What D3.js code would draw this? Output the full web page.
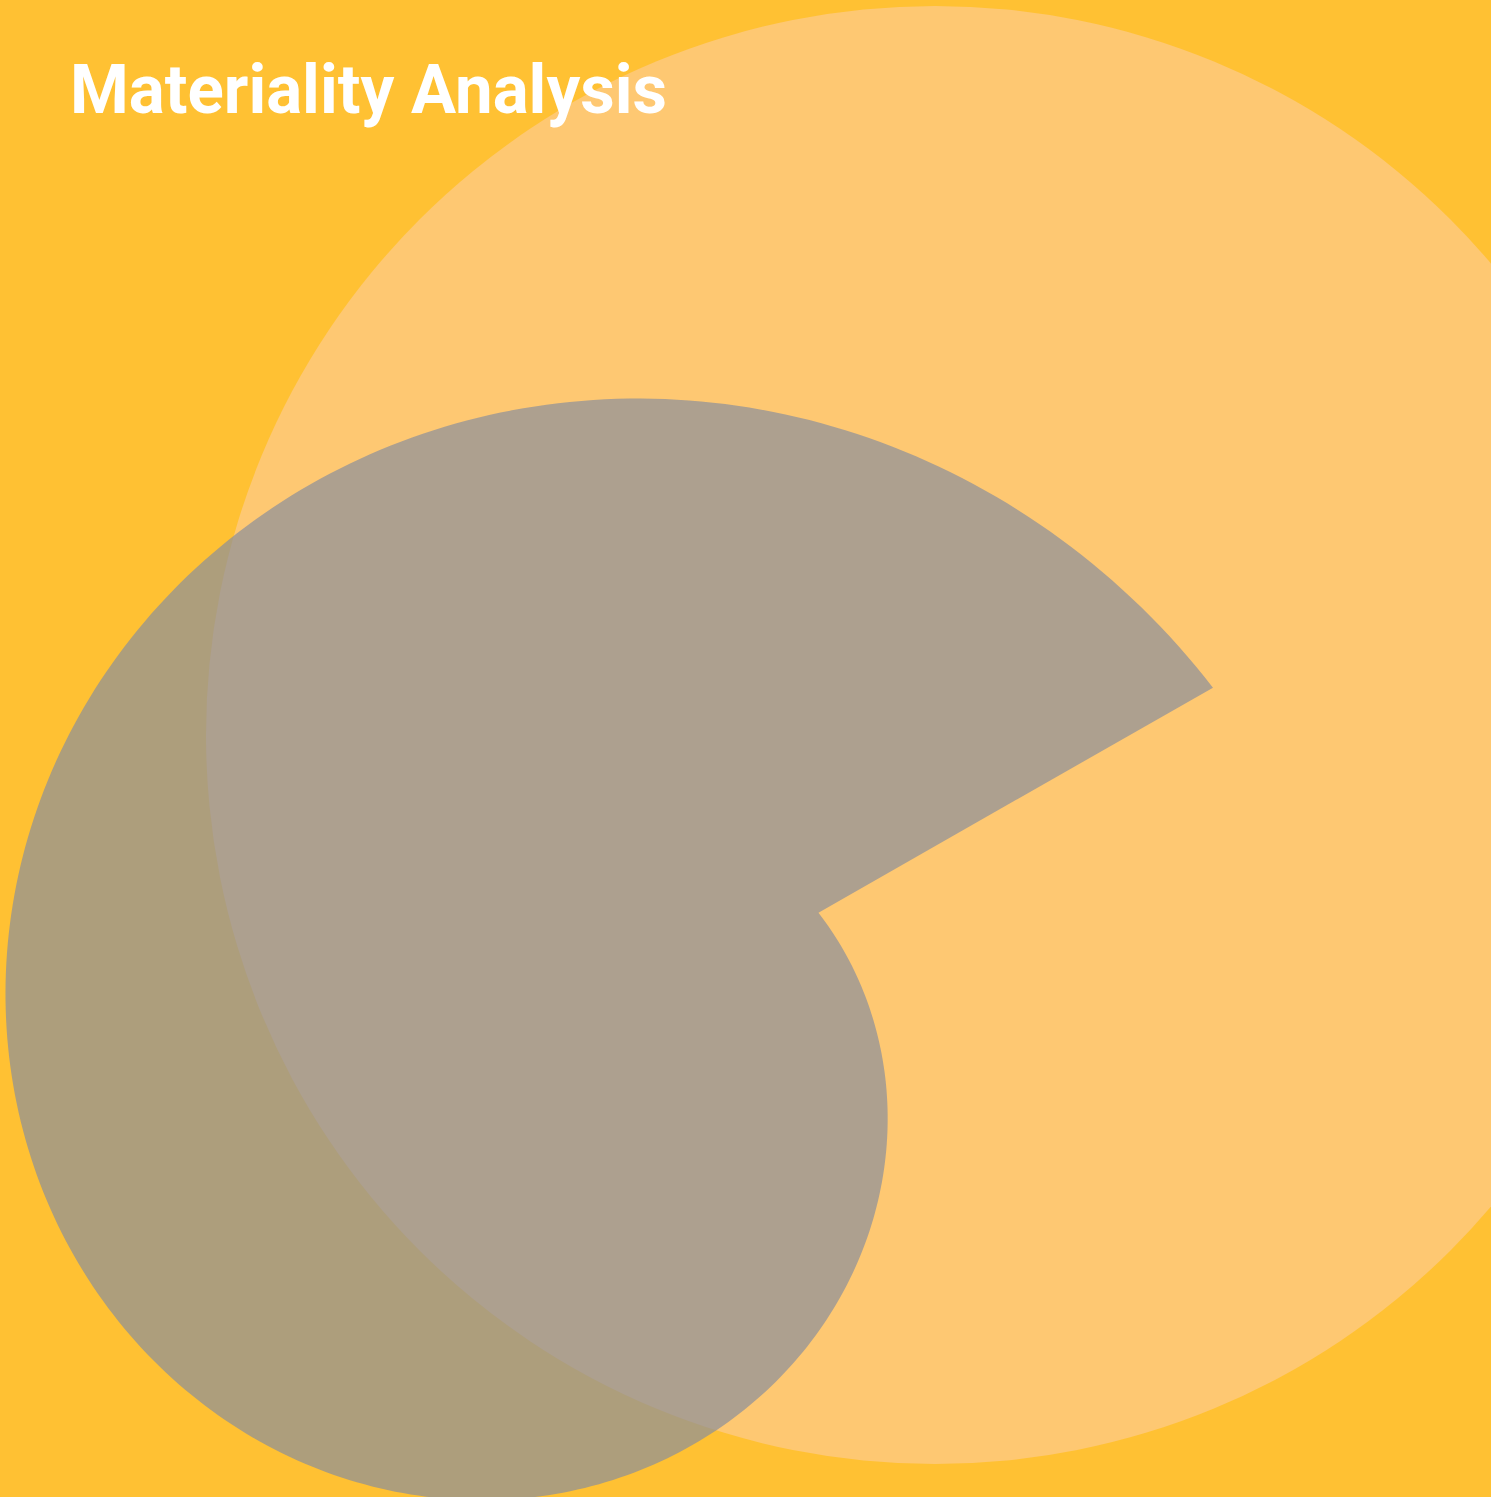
<!DOCTYPE html>
<html>
<head>
<meta charset="utf-8">
<script src="https://cdn.jsdelivr.net/npm/d3@7"></script>
<style>
  html, body { margin: 0; padding: 0; background: #FFC133; }
  svg { display: block; }
</style>
</head>
<body>
<div id="chart"></div>
<script>
// Materiality Analysis - outer bubble with a spiral layer over it

var chartTitle = "Materiality Analysis";

// values (relative units)
var layerNames = ["Outer", "Spiral"];
var circleValues = [100];          // outer bubble radius
var spiralValues = [43.5, 105.8];  // spiral radius at start and end of the turn

var width = 1491,
    height = 1497;

var colors = {
  bg: "#FFC133",
  circle: "#FEC872",
  spiral: "rgb(138,143,155)"
};

// layout
var circleCenter = [935, 735],
    spiralCenter = [543, 1069.8],
    spiralStart = 60.3; // degrees, d3 convention (0 = up, clockwise)

var r = d3.scaleLinear()
  .domain([0, 100])
  .range([0, 729]);

var svg = d3.select("#chart")
  .append("svg")
    .attr("width", width)
    .attr("height", height);

svg.append("rect")
  .attr("width", width)
  .attr("height", height)
  .attr("fill", colors.bg);

// outer bubble
svg.selectAll(".bubble")
  .data(circleValues)
  .enter()
  .append("circle")
    .attr("class", "bubble")
    .attr("cx", circleCenter[0])
    .attr("cy", circleCenter[1])
    .attr("r", function(d) { return r(d); })
    .attr("fill", colors.circle);

// spiral: radius grows exponentially from the first to the second value over one turn
var r0 = spiralValues[0], r1 = spiralValues[1];
var steps = d3.range(0, 361, 1);
var spiralLine = d3.lineRadial()
  .angle(function(t) { return (spiralStart + t) * Math.PI / 180; })
  .radius(function(t) { return r(r0 * Math.pow(r1 / r0, t / 360)); });

svg.append("path")
  .datum(steps)
  .attr("transform", "translate(" + spiralCenter[0] + "," + spiralCenter[1] + ")")
  .attr("d", function(d) { return spiralLine(d) + "Z"; })
  .attr("fill", colors.spiral)
  .attr("fill-opacity", 0.7);

// title
svg.append("text")
  .attr("x", 70)
  .attr("y", 113)
  .attr("textLength", 597)
  .attr("lengthAdjust", "spacingAndGlyphs")
  .style("font-family", "Roboto, 'DejaVu Sans', sans-serif")
  .style("font-weight", "bold")
  .style("font-size", "69px")
  .attr("fill", "#ffffff")
  .text(chartTitle);
</script>
</body>
</html>
